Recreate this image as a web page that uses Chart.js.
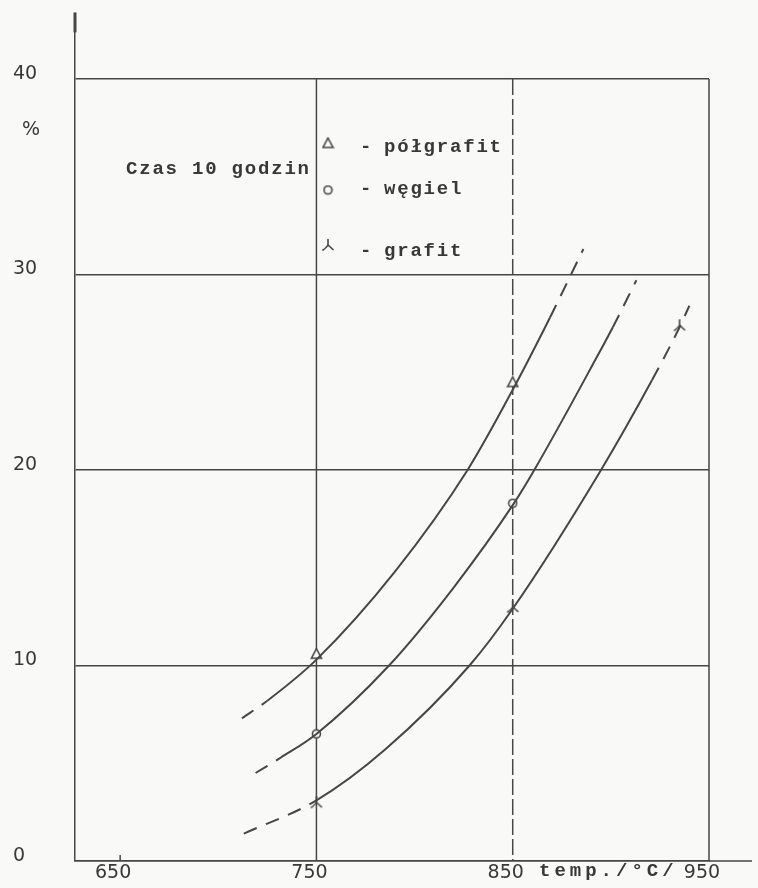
<!DOCTYPE html>
<html>
<head>
<meta charset="utf-8">
<script src="https://cdn.jsdelivr.net/npm/chart.js@4/dist/chart.umd.min.js"></script>
<style>
  html, body { margin: 0; padding: 0; background: #f9f9f7; }
  #wrap { width: 758px; height: 888px; }
</style>
</head>
<body>
<div id="wrap"><canvas id="chart" width="758" height="888"></canvas></div>
<script>
// tick values
const xTicks = [650, 750, 850, 950];
const yTicks = [0, 10, 20, 30, 40];

// curves (temperature °C, %)
const polgrafitT = [712, 725, 750, 790, 827, 850, 869, 886];
const polgrafitV = [7.3, 8.2, 10.3, 14.8, 20.0, 24.1, 27.8, 31.3];
const wegielT = [719, 732, 750, 787, 820, 850, 861, 893, 901, 913];
const wegielV = [4.5, 5.3, 6.5, 10.0, 14.0, 18.2, 20.0, 25.8, 27.3, 29.7];
const grafitT = [713, 750, 785, 828, 850, 895, 921, 935, 940];
const grafitV = [1.4, 3.1, 5.7, 10.0, 12.9, 20.0, 24.6, 27.3, 28.4];

// part of each curve drawn solid (rest dashed)
const polgrafitSolid = [725, 869];
const wegielSolid = [732, 901];
const grafitSolid = [750, 921];

// measured points
const polgrafitMarkT = [750, 850];
const polgrafitMarkV = [10.6, 24.5];
const wegielMarkT = [750, 850];
const wegielMarkV = [6.5, 18.3];
const grafitMarkT = [750, 850, 935];
const grafitMarkV = [3.0, 13.0, 27.4];

const INK = '#464646';
const PAPER = '#f9f9f7';

function marker(kind, s) {
  const c = document.createElement('canvas');
  c.width = s; c.height = s;
  const g = c.getContext('2d');
  g.strokeStyle = INK;
  g.fillStyle = PAPER;
  g.lineWidth = 1.6;
  g.beginPath();
  if (kind === 'tri') {
    g.moveTo(s / 2, 1.5);
    g.lineTo(s - 1.5, s - 2);
    g.lineTo(1.5, s - 2);
    g.closePath();
    g.fill(); g.stroke();
  } else if (kind === 'circ') {
    g.arc(s / 2, s / 2, s / 2 - 1.5, 0, Math.PI * 2);
    g.fill(); g.stroke();
  } else {
    g.moveTo(s / 2, 1);
    g.lineTo(s / 2, s / 2);
    g.moveTo(1.5, s - 1.5);
    g.quadraticCurveTo(s / 2 - 1, s / 2 + 2, s / 2, s / 2);
    g.lineTo(s - 1.5, s - 2);
    g.stroke();
  }
  return c;
}

const triM = marker('tri', 13), circM = marker('circ', 11), grafM = marker('graf', 14);

function pts(t, v) { return t.map((x, i) => ({ x: x, y: v[i] })); }

function curve(label, t, v, solid) {
  return {
    label: label,
    data: pts(t, v),
    borderColor: INK,
    borderWidth: 2,
    pointRadius: 0,
    cubicInterpolationMode: 'monotone',
    segment: {
      borderDash: ctx => (ctx.p0.parsed.x < solid[0] || ctx.p1.parsed.x > solid[1]) ? [14, 10] : undefined
    }
  };
}

function marks(label, t, v, img) {
  return {
    label: label,
    data: pts(t, v),
    showLine: false,
    pointStyle: img,
    pointRadius: 6,
    borderColor: INK
  };
}

const framePlugin = {
  id: 'frame',
  beforeDatasetsDraw(chart) {
    const { ctx } = chart;
    const xs = chart.scales.x, ys = chart.scales.y;
    const y0 = ys.getPixelForValue(0), y40 = ys.getPixelForValue(40);
    ctx.save();
    ctx.strokeStyle = INK;
    ctx.lineWidth = 1.5;
    [[750, []], [850, [16, 4]], [950, []]].forEach(([v, dash]) => {
      const px = xs.getPixelForValue(v);
      ctx.setLineDash(dash);
      ctx.beginPath();
      ctx.moveTo(px, y40);
      ctx.lineTo(px, y0);
      ctx.stroke();
    });
    ctx.setLineDash([]);
    // bottom axis running past the frame
    ctx.beginPath();
    ctx.moveTo(xs.getPixelForValue(950), y0);
    ctx.lineTo(752, y0);
    ctx.stroke();
    // small tick at 650
    const p650 = xs.getPixelForValue(650);
    ctx.beginPath();
    ctx.moveTo(p650, y0);
    ctx.lineTo(p650, y0 - 6);
    ctx.stroke();
    // heavy mark at top of y axis
    ctx.lineWidth = 3;
    ctx.beginPath();
    ctx.moveTo(chart.chartArea.left, chart.chartArea.top - 2);
    ctx.lineTo(chart.chartArea.left, chart.chartArea.top + 18);
    ctx.stroke();
    ctx.restore();
  },
  afterDraw(chart) {
    const { ctx } = chart;
    ctx.save();
    ctx.fillStyle = '#383838';
    ctx.textBaseline = 'middle';
    ctx.font = '19px "DejaVu Sans"';
    ctx.fillText('%', 22, 130);
    ctx.font = 'bold 19px "Liberation Mono"';
    ctx.letterSpacing = '1.8px';
    ctx.fillText('Czas 10 godzin', 126, 169);
    const rows = [[triM, 'półgrafit', 143, 147], [circM, 'węgiel', 190, 189], [grafM, 'grafit', 245, 251]];
    rows.forEach(([img, txt, sy, ty]) => {
      ctx.drawImage(img, 328 - img.width / 2, sy - img.height / 2);
      ctx.fillText('-', 360, ty);
      ctx.fillText(txt, 384, ty);
    });
    ctx.letterSpacing = '4px';
    ctx.fillText('temp./°C/', 539, 871);
    ctx.restore();
  }
};

new Chart(document.getElementById('chart'), {
  type: 'line',
  data: {
    datasets: [
      curve('półgrafit', polgrafitT, polgrafitV, polgrafitSolid),
      curve('węgiel', wegielT, wegielV, wegielSolid),
      curve('grafit', grafitT, grafitV, grafitSolid),
      marks('półgrafit pkt', polgrafitMarkT, polgrafitMarkV, triM),
      marks('węgiel pkt', wegielMarkT, wegielMarkV, circM),
      marks('grafit pkt', grafitMarkT, grafitMarkV, grafM)
    ]
  },
  options: {
    responsive: false,
    animation: false,
    layout: { padding: { left: 13, top: 10, right: 49, bottom: 0 } },
    plugins: {
      legend: { display: false },
      tooltip: { enabled: false }
    },
    scales: {
      x: {
        type: 'linear',
        min: 627,
        max: 950,
        afterBuildTicks: s => { s.ticks = xTicks.map(v => ({ value: v })); },
        afterFit: s => { s.height = 27; },
        grid: { display: false, drawTicks: false },
        border: { display: true, color: INK, width: 1.5 },
        ticks: {
          padding: 1,
          labelOffset: -7,
          color: '#383838',
          font: { family: 'DejaVu Sans', size: 19 }
        }
      },
      y: {
        min: 0,
        max: 43.3,
        afterBuildTicks: s => { s.ticks = yTicks.map(v => ({ value: v })); },
        afterFit: s => { s.width = 62; },
        grid: { color: INK, lineWidth: 1.5, drawTicks: false },
        border: { display: true, color: INK, width: 1.5 },
        ticks: {
          crossAlign: 'far',
          labelOffset: -5,
          color: '#383838',
          font: { family: 'DejaVu Sans', size: 19 }
        }
      }
    }
  },
  plugins: [framePlugin]
});
</script>
</body>
</html>
